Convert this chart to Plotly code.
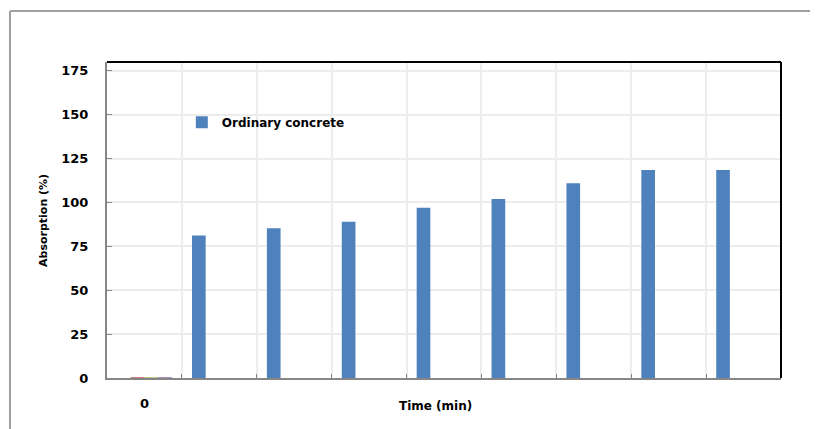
import plotly.graph_objects as go

# Data
CATEGORIES = ["0", "1", "2", "3", "4", "5", "6", "7", "8"]
TICK_LABELS = ["0", "", "", "", "", "", "", "", ""]
ORDINARY = [None, 81.2, 85.3, 89.0, 97.0, 102.0, 111.0, 118.5, 118.5]
OTHER_A = [0, None, None, None, None, None, None, None, None]
OTHER_B = [0, None, None, None, None, None, None, None, None]
OTHER_C = [0, None, None, None, None, None, None, None, None]
Y_TICKS = [0, 25, 50, 75, 100, 125, 150, 175]

BLUE = "#4F81BD"
RED = "#C0504D"
GREEN = "#9BBB59"
PURPLE = "#8064A2"
AXIS_GRAY = "#868686"
GRID = "#EDEDED"
FONT = "DejaVu Sans"

fig = go.Figure()
fig.add_trace(go.Bar(
    x=CATEGORIES, y=ORDINARY, name="Ordinary concrete",
    marker=dict(color=BLUE, line=dict(width=0)),
))
for vals, clr in [(OTHER_A, RED), (OTHER_B, GREEN), (OTHER_C, PURPLE)]:
    fig.add_trace(go.Bar(
        x=CATEGORIES, y=vals, showlegend=False,
        marker=dict(color=clr, line=dict(color=clr, width=1)),
    ))

# page body has an 8px margin, so the figure is shrunk to fit the window
fig.update_layout(
    width=810, height=421,
    margin=dict(l=99, r=37, t=54, b=51),
    paper_bgcolor="white", plot_bgcolor="white",
    barmode="group", bargap=0.27, bargroupgap=0,
    font=dict(family=FONT, color="black"),
    showlegend=True,
    legend=dict(
        x=0.111, y=0.855, xanchor="left", yanchor="top",
        bgcolor="rgba(0,0,0,0)",
        font=dict(size=12, weight="bold", family=FONT),
    ),
)

fig.update_xaxes(
    type="category",
    tickmode="array", tickvals=CATEGORIES, ticktext=TICK_LABELS,
    tickson="boundaries",
    showgrid=True, gridcolor=GRID, gridwidth=1.5,
    showline=True, linecolor=AXIS_GRAY, linewidth=2,
    ticks="inside", ticklen=4, tickcolor=AXIS_GRAY,
    tickfont=dict(size=13, weight="bold", family=FONT),
    ticklabelstandoff=12,
    zeroline=False,
)
fig.update_yaxes(
    range=[0, 180],
    tickmode="array", tickvals=Y_TICKS,
    showgrid=True, gridcolor=GRID, gridwidth=1.5,
    showline=True, linecolor=AXIS_GRAY, linewidth=2,
    ticks="inside", ticklen=5, tickcolor=AXIS_GRAY,
    tickfont=dict(size=13, weight="bold", family=FONT),
    ticklabelstandoff=14,
    zeroline=False,
)

fig.add_annotation(text="Time (min)", xref="paper", yref="paper", x=0.487, y=-0.0886,
                   showarrow=False, xanchor="center", yanchor="middle",
                   font=dict(size=12, weight="bold", family=FONT))
fig.add_annotation(text="Absorption (%)", xref="paper", yref="paper", x=-0.095, y=0.5,
                   textangle=-90, showarrow=False, xanchor="center", yanchor="middle",
                   font=dict(size=11, weight="bold", family=FONT))

# black top/right frame of the plot area
fig.add_shape(type="line", xref="paper", yref="paper", x0=0, x1=1, y0=1, y1=1,
              line=dict(color="black", width=2))
fig.add_shape(type="line", xref="paper", yref="paper", x0=1, x1=1, y0=0, y1=1,
              line=dict(color="black", width=2))
# outer chart border (top + left edges visible)
fig.add_shape(type="line", xref="paper", yref="paper", x0=-0.1439, x1=1.1, y0=1.1614, y1=1.1614,
              line=dict(color="#A0A0A0", width=2))
fig.add_shape(type="line", xref="paper", yref="paper", x0=-0.1439, x1=-0.1439, y0=-0.2, y1=1.1614,
              line=dict(color="#A0A0A0", width=2))

fig.write_html("out.html")
